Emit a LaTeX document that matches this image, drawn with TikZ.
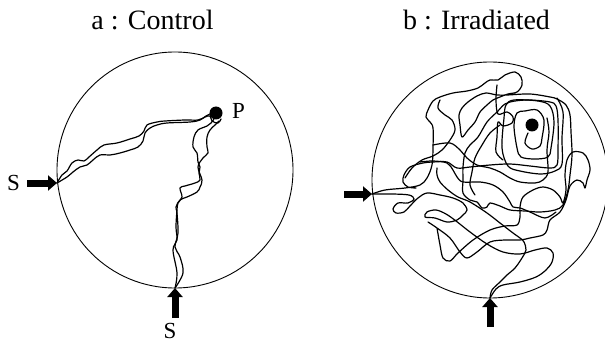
\documentclass[tikz,border=0pt]{standalone}
\usepackage{fontspec}
\setmainfont{Liberation Serif}
\usetikzlibrary{arrows.meta}
\tikzset{
  ttl/.style={font=\fontsize{28}{30}\selectfont, inner sep=0pt, anchor=base},
  lbl/.style={font=\fontsize{23}{25}\selectfont, inner sep=0pt, anchor=base west},
  dish/.style={draw, circle, line width=0.9pt, minimum size=236pt, inner sep=0pt},
  dotnode/.style={fill, circle, minimum size=13pt, inner sep=0pt},
  bigarrow/.style={line width=7pt, -{Triangle[length=9pt,width=15pt]}},
  walk/.style={line width=1.2pt, line join=round, line cap=round},
}
\begin{document}
\begin{tikzpicture}[x=1pt,y=-1pt]
\useasboundingbox (0,0) rectangle (605,342);
\clip (0,0) rectangle (605,342);
% titles
\node[ttl] (ta) at (152.5,30) {a : Control};
\node[ttl] (tb) at (476.5,30) {b : Irradiated};
% ---------------- panel a ----------------
\node[dish] (ca) at (175,170) {};
\node[dotnode] (pa) at (216,113) {};
\node[lbl] (plbl) at (232,118.5) {P};
\node[lbl] (sl) at (7,190) {S};
\node[lbl, anchor=base] (sb) at (170,338) {S};
\coordinate (sa) at (57,183);
\coordinate (sa0) at (27,183);
\coordinate (sbt) at (175,288);
\coordinate (sb0) at (175,318);
\draw[bigarrow] (sa0) -- (sa);
\draw[bigarrow] (sb0) -- (sbt);
\draw[walk] plot[smooth, tension=0.6] coordinates {(57,183) (62,175) (67,171) (72,163) (78,160) (84,161) (89,157) (97,150) (104,145) (117,143) (130,139) (139,136) (144,131) (147,125) (157,122) (165,121) (185,120) (198,120) (205,117) (210,116) (212,121) (218,123) (221,119)};
\draw[walk] plot[smooth, tension=0.6] coordinates {(57,183) (67,177) (73,172) (80,167) (87,165) (93,160) (100,155) (110,155) (120,153) (130,150) (138,147) (143,141) (145,133) (150,128) (157,125) (167,123) (190,122) (200,120) (206,116) (212,113)};
\draw[walk] plot[smooth, tension=0.6] coordinates {(175,288) (177,273) (173,250) (177,240) (176,227) (177,210) (178,203) (182,197) (180,188) (185,186) (195,183) (200,180) (199,173) (200,167) (198,162) (197,153) (193,147) (194,137) (198,130) (207,126) (211,123) (214,119)};
\draw[walk] plot[smooth, tension=0.6] coordinates {(175,288) (183,273) (180,257) (175,247) (178,233) (177,213) (176,207) (180,200) (187,197) (197,192) (200,187) (202,180) (198,167) (203,158) (208,153) (207,147) (207,137) (210,130) (215,125) (219,121)};
% ---------------- panel b ----------------
\node[dish] (cb) at (490,180) {};
\node[dotnode] (pb) at (532,125) {};
\coordinate (ra) at (372,194);
\coordinate (ra0) at (344,194);
\coordinate (rb) at (490,298);
\coordinate (rb0) at (490,327);
\draw[bigarrow] (ra0) -- (ra);
\draw[bigarrow] (rb0) -- (rb);
% strand from the left entry, up over the top
\draw[walk] plot[smooth, tension=0.55] coordinates {(372,194) (385,190) (405,188) (420,185) (427,178) (432,165) (433,148) (433,128) (430,122) (426,117) (428,110) (433,101) (440,97) (453,93) (467,91) (478,88) (485,83) (490,80) (498,80) (505,75) (515,72) (521,77) (522,85) (517,92) (508,94) (500,97) (493,100) (487,105) (480,112) (475,122) (468,130) (462,137) (460,125) (459,115) (462,108) (468,102) (477,96) (486,93) (497,95) (507,95) (530,94) (550,97) (557,99) (566,105) (570,115) (571,132) (572,155) (570,175) (568,190) (563,205) (555,210) (540,212) (525,211) (510,210) (500,206) (490,203) (487,207) (482,208) (477,202) (470,200) (463,193) (463,180) (463,167) (465,153) (470,145) (478,137) (487,122) (497,112) (505,104) (515,101) (530,100) (550,102) (556,106) (558,120) (558,150) (557,165) (550,168) (530,166) (510,164) (490,165) (470,167) (457,168) (447,162) (433,162) (423,163) (410,167) (404,175) (403,182) (408,187) (416,188)};
% strand from the left entry, lower loops
\draw[walk] plot[smooth, tension=0.55] coordinates {(372,194) (392,194) (409,195) (414,199) (408,203) (398,203) (393,209) (396,213) (404,212) (410,206) (418,198) (427,193) (440,195) (453,198) (463,203) (467,210) (463,215) (457,220) (447,222) (435,218) (425,217) (427,212) (436,210) (446,214) (456,221) (470,232) (487,244) (503,252) (520,254) (535,250) (547,248) (553,253) (552,262) (546,270) (536,277) (520,282) (503,285) (496,289) (490,298)};
% strand from the bottom entry, left side
\draw[walk] plot[smooth, tension=0.55] coordinates {(490,298) (492,290) (500,282) (507,275) (515,268) (522,258) (526,250) (524,242) (520,238) (513,233) (500,223) (487,213) (470,202) (458,197) (448,190) (440,182) (437,175) (437,168)};
% strand across the lower middle
\draw[walk] plot[smooth, tension=0.55] coordinates {(437,228) (440,245) (443,258) (450,261) (458,253) (473,240) (490,230) (505,226) (517,225) (520,217) (520,207) (523,197) (533,190) (543,187) (553,190) (560,197) (563,203) (566,190) (565,175) (567,160) (573,152) (583,153) (588,160) (590,170) (587,180) (585,188) (583,183) (577,180) (570,186) (566,200) (560,212) (550,220) (547,230) (543,235) (530,238) (520,240) (505,240) (490,242) (477,252) (467,258) (460,252) (450,238) (437,228) (428,222)};
% strands across the upper middle
\draw[walk] plot[smooth, tension=0.55] coordinates {(420,162) (433,161) (447,163) (453,170) (457,177) (463,182) (480,182) (493,185) (503,192) (510,202) (513,207) (520,208) (530,212) (545,218) (556,212)};
\draw[walk] plot[smooth, tension=0.55] coordinates {(405,178) (412,168) (422,160) (433,156) (442,150) (450,140) (455,130) (452,120) (445,115) (438,108) (440,100)};
\draw[walk] plot[smooth, tension=0.55] coordinates {(433,145) (450,143) (460,150) (467,158) (477,165) (490,168) (500,172) (510,178) (520,182) (535,183) (543,180) (548,172) (547,150) (549,132) (547,118)};
\draw[walk] plot[smooth, tension=0.55] coordinates {(500,125) (490,133) (482,145) (475,158) (472,172) (470,185) (475,195)};
% spiral round the dot
\draw[walk] plot[smooth, tension=0.55] coordinates {(528,133) (525,143) (532,149) (540,146) (542,138) (544,120) (537,110) (525,111) (517,113) (514,126) (517,148) (521,157) (535,159) (548,157) (551,148) (554,122) (550,106) (538,101) (514,100) (506,105) (504,118) (502,148) (508,166) (520,171) (541,174) (555,171) (562,164) (562,138) (563,112) (557,98)};
\draw[walk] plot[smooth, tension=0.55] coordinates {(497,85) (496,100) (498,114) (507,112) (513,117) (512,123) (503,126) (498,122) (497,137) (496,152) (503,160)};
\end{tikzpicture}
\end{document}
